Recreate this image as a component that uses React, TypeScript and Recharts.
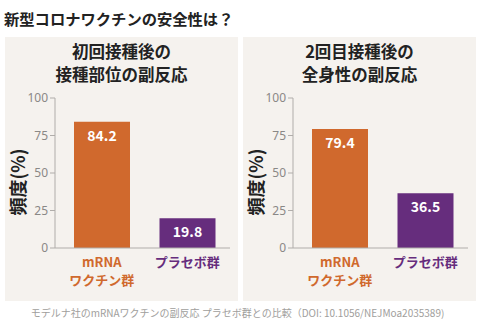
import React from 'react';
import { BarChart, Bar, XAxis, YAxis, Cell, LabelList } from 'recharts';

const pageTitle = '新型コロナワクチンの安全性は？';
const footnote = 'モデルナ社のmRNAワクチンの副反応 プラセボ群との比較（DOI: 10.1056/NEJMoa2035389)';
const groupKeys = ['vaccine', 'placebo'];
const groupLabelLines = [['mRNA', 'ワクチン群'], ['プラセボ群']];
const groupColors = ['#d0692d', '#662d7d'];
const localReactionValues = [84.2, 19.8];
const systemicReactionValues = [79.4, 36.5];
const yTicks = [0, 25, 50, 75, 100];
const panelTitles = [
  ['初回接種後の', '接種部位の副反応'],
  ['2回目接種後の', '全身性の副反応'],
];
const yAxisLabel = '頻度(%)';

const FONT = '"Noto Sans CJK JP", "Noto Sans", sans-serif';
const PANEL_BG = '#f5f2ee';

const XTick = (props: any) => {
  const { x, y, payload } = props;
  const idx = groupKeys.indexOf(payload.value);
  const lines = groupLabelLines[idx] || [];
  return (
    <g>
      {lines.map((ln, i) => (
        <text
          key={i}
          x={x}
          y={y + 11 + i * 18}
          textAnchor="middle"
          fill={groupColors[idx]}
          fontSize={13}
          fontWeight={700}
          fontFamily={FONT}
        >
          {ln}
        </text>
      ))}
    </g>
  );
};

const YLabel = (props: any) => {
  const { viewBox } = props;
  const cx = viewBox.x + 12;
  const cy = viewBox.y + viewBox.height / 2 + 9;
  return (
    <text
      x={cx}
      y={cy}
      transform={`rotate(-90 ${cx} ${cy})`}
      textAnchor="middle"
      dominantBaseline="central"
      fontSize={18}
      fontWeight={700}
      fill="#222"
      fontFamily={FONT}
    >
      {yAxisLabel}
    </text>
  );
};

const Panel = ({ left, title, values }: { left: number; title: string[]; values: number[] }) => {
  const data = groupKeys.map((k, i) => ({ key: k, value: values[i] }));
  return (
    <div
      style={{
        position: 'absolute',
        left,
        top: 37,
        width: 233,
        height: 264,
        background: PANEL_BG,
      }}
    >
      <div
        style={{
          position: 'absolute',
          left: 0,
          top: 3,
          width: 233,
          textAlign: 'center',
          fontFamily: FONT,
          fontWeight: 700,
          fontSize: 16.5,
          lineHeight: '23px',
          color: '#222',
        }}
      >
        {title.map((t, i) => (
          <div key={i}>{t}</div>
        ))}
      </div>
      <div style={{ position: 'absolute', left: 0, top: 0 }}>
        <BarChart
          width={233}
          height={264}
          data={data}
          margin={{ top: 61, right: 8, left: 0, bottom: 13 }}
          barSize={56}
        >
          <XAxis
            dataKey="key"
            tick={<XTick />}
            tickLine={false}
            axisLine={{ stroke: '#b0adaa' }}
            height={40}
            padding={{ left: 4, right: 0 }}
            interval={0}
          />
          <YAxis
            domain={[0, 100]}
            ticks={yTicks}
            width={50}
            tickSize={5}
            axisLine={{ stroke: '#b0adaa' }}
            tickLine={{ stroke: '#b0adaa' }}
            tick={{ fill: '#8a8886', fontSize: 12, fontFamily: '"Noto Sans", sans-serif' }}
            label={<YLabel />}
          />
          <Bar dataKey="value" isAnimationActive={false}>
            {data.map((_, i) => (
              <Cell key={i} fill={groupColors[i]} />
            ))}
            <LabelList
              dataKey="value"
              position="insideTop"
              offset={9}
              fill="#ffffff"
              fontSize={14}
              fontWeight={700}
              fontFamily={FONT}
            />
          </Bar>
        </BarChart>
      </div>
    </div>
  );
};

export default function App() {
  return (
    <div
      style={{
        position: 'absolute',
        left: 0,
        top: 0,
        width: 480,
        height: 327,
        background: '#ffffff',
        overflow: 'hidden',
        fontFamily: FONT,
      }}
    >
      <div
        style={{
          position: 'absolute',
          left: 4,
          top: 8,
          fontSize: 15.3,
          fontWeight: 700,
          color: '#222',
          lineHeight: '20px',
          whiteSpace: 'nowrap',
        }}
      >
        {pageTitle}
      </div>
      <Panel left={5} title={panelTitles[0]} values={localReactionValues} />
      <Panel left={243} title={panelTitles[1]} values={systemicReactionValues} />
      <div
        style={{
          position: 'absolute',
          left: 0,
          top: 305,
          width: 475,
          textAlign: 'center',
          fontSize: 10,
          color: '#a09e9c',
          lineHeight: '16px',
          whiteSpace: 'nowrap',
        }}
      >
        {footnote}
      </div>
    </div>
  );
}
